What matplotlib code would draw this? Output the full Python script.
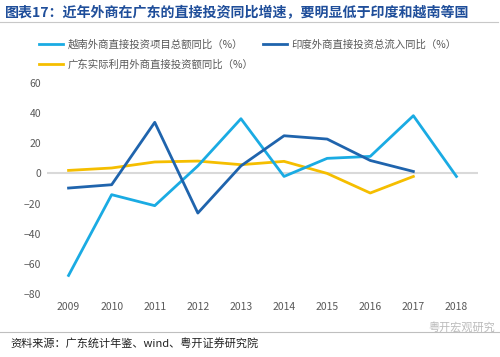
import numpy as np
import matplotlib
matplotlib.use('Agg')
import matplotlib.pyplot as plt

plt.rcParams['font.family'] = ['Noto Sans CJK SC', 'DejaVu Sans']

years = [2009, 2010, 2011, 2012, 2013, 2014, 2015, 2016, 2017, 2018]
vietnam = [-67.7, -14.1, -21.4, 5.0, 36.3, -2.0, 10.0, 11.3, 38.3, -2.0]
india = [-9.7, -7.5, 33.9, -26.3, 5.0, 25.0, 22.8, 8.6, 1.3]
guangdong = [2.0, 3.6, 7.6, 8.2, 5.8, 8.0, 0.0, -13.0, -2.0]

names = ['越南外商直接投资项目总额同比（%）',
         '印度外商直接投资总流入同比（%）',
         '广东实际利用外商直接投资额同比（%）']
colors = ['#1AABE3', '#1F64AD', '#F5BE00']

title = '图表17：近年外商在广东的直接投资同比增速，要明显低于印度和越南等国'
source = '资料来源：广东统计年鉴、wind、粤开证券研究院'
mark = '粤开宏观研究'

fig = plt.figure(figsize=(5, 3.57), dpi=100)
ax = fig.add_axes([0.094, 0.1765, 0.862, 0.591])

x = np.arange(len(years))
ax.axhline(0, color='#D9D9D9', lw=1.5, zorder=1)
ax.plot(x, vietnam, color=colors[0], lw=2, label=names[0], zorder=3)
ax.plot(x[:len(india)], india, color=colors[1], lw=2, label=names[1], zorder=3)
ax.plot(x[:len(guangdong)], guangdong, color=colors[2], lw=2, label=names[2], zorder=2)

ax.set_xlim(-0.5, len(years) - 0.5)
ax.set_ylim(-80, 60)
ax.set_yticks(range(-80, 61, 20))
ax.set_xticks(x)
ax.set_xticklabels([str(y) for y in years])
for s in ax.spines.values():
    s.set_visible(False)
ax.tick_params(length=0, labelsize=7.5, colors='#595959', pad=6)
ax.tick_params(axis='y', pad=4)

# legend: column-major fill, so order gives rows (vietnam, india) / (guangdong)
h, l = ax.get_legend_handles_labels()
fig.legend([h[0], h[2], h[1]], [l[0], l[2], l[1]], loc='upper left',
           bbox_to_anchor=(0.06, 0.915), ncol=2, frameon=False,
           fontsize=7.5, labelcolor='#595959', handlelength=2.3,
           handletextpad=0.4, columnspacing=0.9, labelspacing=0.9)

fig.text(0.01, 0.963, title, fontsize=10.1, fontweight='bold',
         color='#1F4E9A', va='center')
fig.add_artist(plt.Line2D([0, 0.995], [0.938, 0.938], color='#C8C8C8', lw=0.8))

fig.add_artist(plt.Line2D([0, 1], [0.07, 0.07], color='#BFBFBF', lw=0.8))
fig.text(0.02, 0.038, source, fontsize=8, style='italic', color='#222222', va='center')
fig.text(0.99, 0.082, mark, fontsize=8, color='#BBBBBB', va='center', ha='right')

fig.savefig('out.png', dpi=100)
